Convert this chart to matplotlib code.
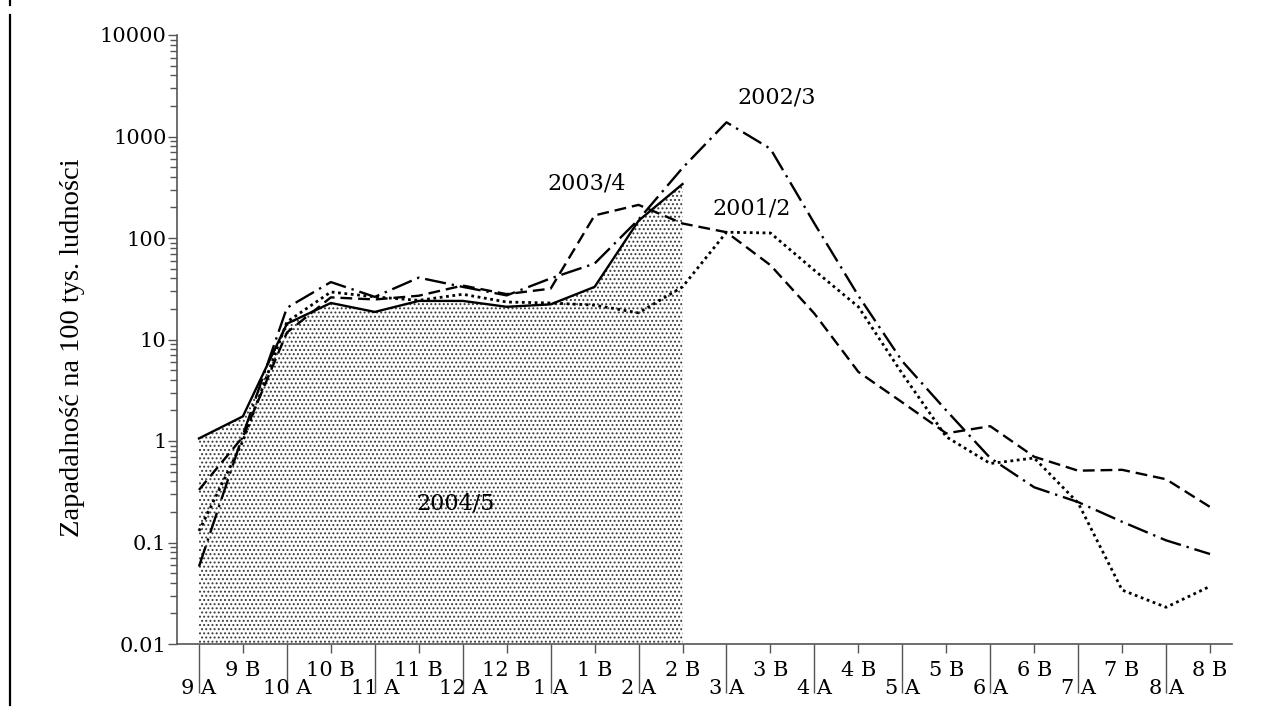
import numpy as np
import matplotlib.pyplot as plt
from matplotlib.ticker import FixedLocator, FixedFormatter, LogLocator, FuncFormatter, NullFormatter
from matplotlib.lines import Line2D

# half-month periods, September (9 A) to August (8 B)
labels = ['9 A', '9 B', '10 A', '10 B', '11 A', '11 B', '12 A', '12 B',
          '1 A', '1 B', '2 A', '2 B', '3 A', '3 B', '4 A', '4 B',
          '5 A', '5 B', '6 A', '6 B', '7 A', '7 B', '8 A', '8 B']

# incidence per 100k
s2004_5 = [1.06, 1.75, 14.3, 22.9, 18.7, 24, 24, 21, 22.2, 33, 148, 340]
s2003_4 = [0.33, 1.1, 11.7, 26, 24.8, 27, 34, 28, 31.7, 167, 212, 139,
           114, 54, 18, 4.8, 2.4, 1.19, 1.4, 0.7, 0.51, 0.52, 0.42, 0.224]
s2002_3 = [0.058, 1.15, 20.5, 36.8, 26.3, 40.7, 33, 27.2, 40, 56, 152, 490,
           1380, 757, 139, 27, 6.1, 2.0, 0.68, 0.35, 0.25, 0.16, 0.105, 0.077]
s2001_2 = [0.13, 1.0, 14.9, 29.4, 26.3, 24.3, 27.9, 23.4, 22.9, 21.8, 18.3, 33,
           114, 112, 48, 21, 4.6, 1.1, 0.6, 0.68, 0.245, 0.034, 0.023, 0.037]

ylabel = 'Zapadalność na 100 tys. ludności'

plt.rcParams['hatch.linewidth'] = 0.9
serif = 'DejaVu Serif'
grey = '#555555'

fig = plt.figure(figsize=(12.82, 7.15), dpi=100)
ax = fig.add_axes([177 / 1282, 1 - 644 / 715, (1232 - 177) / 1282, (644 - 35) / 715])

x = np.arange(len(labels))
x5 = x[:len(s2004_5)]

# shaded current season
ax.fill_between(x5, 0.01, s2004_5, facecolor='white', edgecolor='#3a3a3a',
                hatch='....', linewidth=0, zorder=1)
ax.plot(x5, s2004_5, color='black', lw=1.7, zorder=4)
ax.plot(x, s2003_4, color='black', lw=1.7, linestyle=(0, (5, 2.5)), zorder=3)
ax.plot(x, s2002_3, color='black', lw=1.7, linestyle=(0, (9, 2.5, 1, 2.5)), zorder=3)
ax.plot(x, s2001_2, color='black', lw=2.0, linestyle=(0, (1, 1.3)), zorder=3)

ax.set_yscale('log')
ax.set_ylim(0.01, 10000)
ax.set_xlim(-0.5, 23.5)

for side in ['top', 'right']:
    ax.spines[side].set_visible(False)
for side in ['left', 'bottom']:
    ax.spines[side].set_color(grey)
    ax.spines[side].set_linewidth(1.2)

# y axis
ax.yaxis.set_major_locator(LogLocator(base=10, numticks=20))
ax.yaxis.set_major_formatter(FuncFormatter(lambda v, p: '{:g}'.format(v)))
ax.yaxis.set_minor_locator(LogLocator(base=10, subs=range(2, 10), numticks=20))
ax.yaxis.set_minor_formatter(NullFormatter())
ax.tick_params(axis='y', which='major', length=6.5, width=1, color=grey, pad=1,
               labelsize=15)
ax.tick_params(axis='y', which='minor', length=5, width=1, color=grey)

# x axis: "A" periods long ticks, "B" periods short ticks
ax.xaxis.set_major_locator(FixedLocator(x[0::2]))
ax.xaxis.set_major_formatter(FixedFormatter(labels[0::2]))
ax.xaxis.set_minor_locator(FixedLocator(x[1::2]))
ax.xaxis.set_minor_formatter(FixedFormatter(labels[1::2]))
ax.tick_params(axis='x', which='major', length=35, width=1, color=grey, pad=-9.5,
               labelsize=15)
ax.tick_params(axis='x', which='minor', length=6.5, width=1, color=grey, pad=6,
               labelsize=15)
for t in ax.get_xticklabels(which='both') + ax.get_yticklabels():
    t.set_family(serif)

ax.set_ylabel(ylabel, family='Liberation Serif', fontsize=20.5)
ax.yaxis.set_label_coords(-0.087, 0.486)

# season labels
ax.text(8.82, 344, '2003/4', family=serif, fontsize=16, ha='center', va='center')
ax.text(13.14, 2420, '2002/3', family=serif, fontsize=16, ha='center', va='center')
ax.text(12.57, 195, '2001/2', family=serif, fontsize=16, ha='center', va='center')
ax.text(5.83, 0.244, '2004/5', family=serif, fontsize=16, ha='center', va='center')

# page border on the left
fig.add_artist(Line2D([10 / 1282, 10 / 1282], [1 - 705 / 715, 1 - 15 / 715],
                      transform=fig.transFigure, color='black', lw=1.6))
fig.add_artist(Line2D([10 / 1282, 10 / 1282], [1 - 5 / 715, 1],
                      transform=fig.transFigure, color='black', lw=1.6))

fig.savefig('out.png', dpi=100)
